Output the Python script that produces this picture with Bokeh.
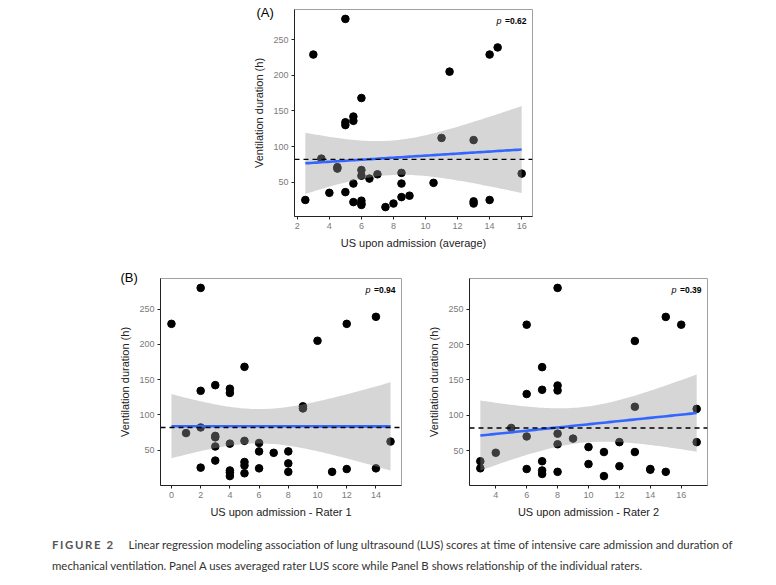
import numpy as np
from bokeh.plotting import figure
from bokeh.models import FixedTicker, Span, Label, Div, Spacer, Range1d, Title
from bokeh.layouts import column, row
from bokeh.embed import file_html
from bokeh.resources import INLINE

# ---------------- data ----------------
avg_score = [2.5, 3, 3.5, 4, 4.5, 4.5, 5, 5, 5, 5, 5.5, 5.5, 5.5, 5.5,
             6, 6, 6, 6, 6, 6, 6.5, 7, 7.5, 8, 8.5, 8.5, 8.5, 9, 10.5,
             11, 11.5, 13, 13, 13, 14, 14, 14.5, 16]
avg_hours = [25, 229, 83, 35, 71, 69, 279, 134, 130, 36, 48, 142, 136, 22,
             168, 67, 59, 24, 20, 18, 55, 61, 15, 20, 63, 48, 29, 31, 49,
             112, 205, 109, 23, 20, 229, 25, 239, 62]

r1_score = [0, 1, 2, 2, 2, 2, 3, 3, 3, 3, 3, 4, 4, 4, 4, 4, 4, 5, 5, 5, 5, 5,
            6, 6, 6, 7, 8, 8, 8, 9, 9, 10, 11, 12, 12, 14, 14, 15]
r1_hours = [229, 74, 280, 134, 82, 25, 142, 68, 70, 55, 35, 137, 131, 59, 21,
            18, 13, 168, 63, 33, 28, 17, 60, 48, 24, 46, 48, 31, 19, 112, 109,
            205, 19, 229, 23, 239, 24, 62]

r2_score = [3, 3, 4, 5, 6, 6, 6, 6, 7, 7, 7, 7, 7, 8, 8, 8, 8, 8, 8, 9, 10, 10,
            11, 11, 12, 12, 13, 13, 13, 14, 14, 15, 15, 16, 17, 17]
r2_hours = [35, 25, 47, 82, 228, 130, 70, 24, 168, 136, 35, 22, 17, 280, 142,
            135, 74, 59, 20, 67, 55, 31, 48, 14, 62, 28, 205, 112, 48, 24, 23,
            239, 20, 228, 109, 62]

mean_hours = 82
p_values = ["0.62", "0.94", "0.39"]
panel_tags = ["(A)", "(B)", None]
x_titles = ["US upon admission (average)", "US upon admission - Rater 1",
            "US upon admission - Rater 2"]
y_title = "Ventilation duration (h)"
x_ticks = [[2, 4, 6, 8, 10, 12, 14, 16], [0, 2, 4, 6, 8, 10, 12, 14],
           [4, 6, 8, 10, 12, 14, 16]]
y_ticks = [50, 100, 150, 200, 250]

caption_head = "FIGURE 2"
caption_line1 = ("Linear regression modeling association of lung ultrasound (LUS) scores at time of "
                 "intensive care admission and duration of")
caption_line2 = ("mechanical ventilation. Panel A uses averaged rater LUS score while Panel B shows "
                 "relationship of the individual raters.")

FONT = "Liberation Sans"
T_CRIT = 2.03  # 95% t quantile, ~36 df


def lm_band(x, y):
    x = np.asarray(x, float)
    y = np.asarray(y, float)
    n = len(x)
    xm, ym = x.mean(), y.mean()
    sxx = ((x - xm) ** 2).sum()
    b1 = ((x - xm) * (y - ym)).sum() / sxx
    b0 = ym - b1 * xm
    s = np.sqrt(((y - (b0 + b1 * x)) ** 2).sum() / (n - 2))
    xs = np.linspace(x.min(), x.max(), 80)
    fit = b0 + b1 * xs
    se = s * np.sqrt(1.0 / n + (xs - xm) ** 2 / sxx)
    return xs, fit, fit - T_CRIT * se, fit + T_CRIT * se


def make_panel(xv, yv, ticks, xtitle, pval, tag, frame_w, bl, br, bt, bb, tag_dx, tag_standoff):
    xmin, xmax = min(xv), max(xv)
    pad = 0.05 * (xmax - xmin)
    ymin, ymax = min(yv), max(yv)
    ypad = 0.05 * (ymax - ymin)
    p = figure(frame_width=frame_w, frame_height=207,
               x_range=Range1d(xmin - pad, xmax + pad),
               y_range=Range1d(ymin - ypad, ymax + ypad),
               min_border_left=bl, min_border_right=br,
               min_border_top=bt, min_border_bottom=bb,
               output_backend="svg", toolbar_location=None,
               background_fill_color="white", border_fill_color="white",
               outline_line_color="#a0a0a0", outline_line_width=1)
    p.grid.visible = False
    for ax in (p.xaxis[0], p.yaxis[0]):
        ax.axis_line_color = "#222222"
        ax.major_tick_line_color = "#222222"
        ax.major_tick_out = 3
        ax.major_tick_in = 0
        ax.minor_tick_line_color = None
        ax.major_label_text_font = FONT
        ax.major_label_text_font_size = "9px"
        ax.major_label_text_color = "#7a7a7a"
        ax.axis_label_text_font = FONT
        ax.axis_label_text_font_size = "11px"
        ax.axis_label_text_font_style = "normal"
        ax.axis_label_text_color = "#222222"
        ax.major_label_standoff = 3
        ax.axis_label_standoff = 5
    p.xaxis[0].ticker = FixedTicker(ticks=ticks)
    p.yaxis[0].ticker = FixedTicker(ticks=y_ticks)
    p.xaxis[0].axis_label = xtitle
    p.yaxis[0].axis_label = y_title

    p.scatter(xv, yv, size=7.6, color="black")
    xs, fit, lo, hi = lm_band(xv, yv)
    p.varea(x=xs, y1=lo, y2=hi, fill_color="#999999", fill_alpha=0.4)
    p.line(xs, fit, line_color="#3366FF", line_width=2.6)
    p.add_layout(Span(location=mean_hours, dimension="width", line_color="black",
                      line_width=1.4, line_dash="5 4"))

    p.add_layout(Label(x=xmax + pad, y=ymax + ypad, x_offset=-6, y_offset=-11,
                       text="=" + pval, text_align="right", text_baseline="middle",
                       text_font=FONT, text_font_size="8.5px", text_font_style="bold",
                       text_color="black"))
    p.add_layout(Label(x=xmax + pad, y=ymax + ypad, x_offset=-31, y_offset=-11,
                       text="p", text_align="right", text_baseline="middle",
                       text_font=FONT, text_font_size="9px", text_font_style="italic",
                       text_color="black"))
    if tag:
        p.add_layout(Title(text=tag, align="left", offset=tag_dx, standoff=tag_standoff,
                           text_font=FONT, text_font_size="13px",
                           text_font_style="normal", text_color="black"), "above")
    return p


pA = make_panel(avg_score, avg_hours, x_ticks[0], x_titles[0], p_values[0], panel_tags[0],
                238, 54, 12, 9, 46, -38, -21)
pB1 = make_panel(r1_score, r1_hours, x_ticks[1], x_titles[1], p_values[1], panel_tags[1],
                 241, 50, 19, 16, 40, -40, -13)
pB2 = make_panel(r2_score, r2_hours, x_ticks[2], x_titles[2], p_values[2], panel_tags[2],
                 238, 49, 20, 16, 40, 0, 0)

caption = Div(text=(
    '<div style="font-family: Lato, sans-serif; font-size: 11.4px; line-height: 21px; '
    'color: #333; padding-top: 9px; white-space: nowrap;">'
    '<span style="display: inline-block; font-weight: bold; letter-spacing: 1.6px; '
    'color: #555; margin-right: 14px;">' + caption_head + '</span>' + caption_line1 +
    '<br>' + caption_line2 + '</div>'),
    width=710, height=60, margin=(0, 0, 0, 0))

layout = column(
    row(Spacer(width=240, height=262), pA),
    row(Spacer(width=110, height=263), pB1, pB2),
    row(Spacer(width=52, height=60), caption),
)

open("out.html", "w").write(file_html(layout, INLINE))
